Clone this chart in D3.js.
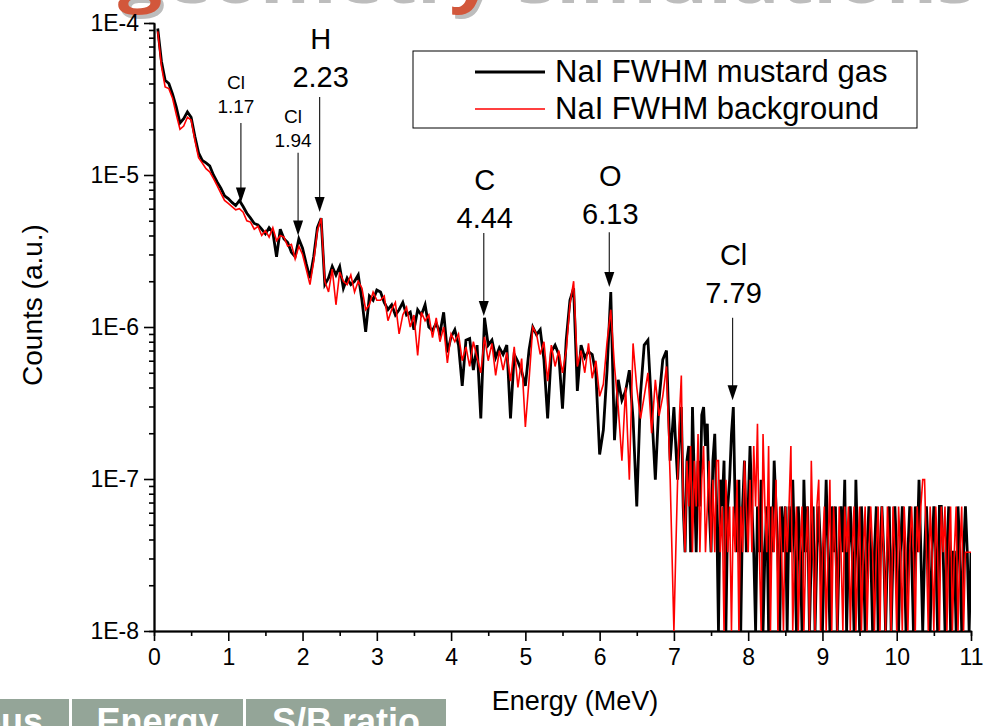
<!DOCTYPE html>
<html>
<head>
<meta charset="utf-8">
<script src="https://cdn.jsdelivr.net/npm/d3@7/dist/d3.min.js"></script>
<style>
    body { margin: 0; background: #fff; overflow: hidden; }
    svg text { font-family: "Liberation Sans", Arial, sans-serif; }
</style>
</head>
<body>
<div id="spectrum"></div>
<script>
// channel energies (MeV): 0.05 MeV bins up to 7 MeV, 0.025 MeV bins above
const coarseEnergies = d3.range(1, 141).map(i => +(i * 0.05).toFixed(3));
const fineEnergies   = d3.range(281, 441).map(i => +(i * 0.025).toFixed(3));
const energies = coarseEnergies.concat(fineEnergies);

// NaI FWHM mustard gas (black)
const mustardGas = [
    // 0.05 - 1.00
    9.2e-5, 5.6e-5, 4.2e-5, 4.0e-5, 3.4e-5, 2.8e-5, 2.2e-5, 2.35e-5, 2.6e-5, 2.4e-5,
    1.8e-5, 1.4e-5, 1.25e-5, 1.2e-5, 1.15e-5, 1.0e-5, 9.0e-6, 8.2e-6, 7.3e-6, 7.0e-6,
    // 1.05 - 2.00
    6.6e-6, 6.3e-6, 6.8e-6, 6.2e-6, 5.6e-6, 5.2e-6, 4.8e-6, 4.7e-6, 4.4e-6, 4.1e-6,
    4.5e-6, 4.2e-6, 2.9e-6, 4.4e-6, 3.8e-6, 3.6e-6, 3.1e-6, 2.9e-6, 3.8e-6, 3.3e-6,
    // 2.05 - 3.00
    2.6e-6, 2.1e-6, 2.9e-6, 4.5e-6, 5.2e-6, 1.9e-6, 2.1e-6, 2.5e-6, 2.2e-6, 2.5e-6,
    1.8e-6, 2.1e-6, 1.9e-6, 2.0e-6, 2.2e-6, 1.5e-6, 9.3e-7, 1.6e-6, 1.5e-6, 1.75e-6,
    // 3.05 - 4.00
    1.7e-6, 1.45e-6, 1.3e-6, 1.4e-6, 1.2e-6, 1.3e-6, 1.45e-6, 1.2e-6, 1.25e-6, 9.6e-7,
    1.3e-6, 1.2e-6, 1.4e-6, 1.0e-6, 9.5e-7, 1.06e-6, 9.1e-7, 1.25e-6, 6.8e-7, 8.6e-7,
    // 4.05 - 5.00
    9.6e-7, 7.6e-7, 4.1e-7, 8.2e-7, 8.4e-7, 5.2e-7, 7.6e-7, 2.5e-7, 1.15e-6, 7.6e-7,
    8.2e-7, 6.3e-7, 7.3e-7, 6.6e-7, 7.6e-7, 2.5e-7, 6.6e-7, 5.9e-7, 5.1e-7, 4.1e-7,
    // 5.05 - 6.00
    7.1e-7, 1.0e-6, 8.9e-7, 9.6e-7, 6.1e-7, 2.5e-7, 6.9e-7, 7.6e-7, 6.6e-7, 2.9e-7,
    8.2e-7, 1.5e-6, 1.8e-6, 3.8e-7, 7.6e-7, 6.3e-7, 6.9e-7, 6.6e-7, 4.9e-7, 1.45e-7,
    // 6.05 - 7.00
    2.1e-7, 5.2e-7, 1.7e-6, 1.8e-7, 4.5e-7, 3.3e-7, 3.8e-7, 5.2e-7, 2.5e-7, 6.6e-8,
    3.6e-7, 7.6e-7, 8.2e-7, 2.9e-7, 9.9e-8, 3.3e-7, 6.1e-7, 7.0e-7, 1.32e-7, 2.97e-7,
    // 7.025 - 7.500
    1.65e-7, 9.9e-8, 1.98e-7, 2.97e-7, 6.6e-8, 3.3e-8, 1.32e-7, 1.65e-7, 3.3e-8, 2.97e-7,
    9.9e-8, 3.3e-8, 1.32e-7, 6.6e-8, 2.64e-7, 2.97e-7, 1.65e-7, 2.31e-7, 6.6e-8, 3.3e-8,
    // 7.525 - 8.000
    1.32e-7, 1.98e-7, 6.6e-8, 0, 9.9e-8, 6.6e-8, 1.32e-7, 0, 6.6e-8, 9.9e-8,
    1.98e-7, 2.97e-7, 6.6e-8, 3.3e-8, 9.9e-8, 0, 6.6e-8, 1.32e-7, 3.3e-8, 6.6e-8,
    // 8.025 - 8.500
    1.65e-7, 6.6e-8, 3.3e-8, 0, 6.6e-8, 3.3e-8, 9.9e-8, 0, 3.3e-8, 6.6e-8,
    0, 6.6e-8, 3.3e-8, 1.32e-7, 6.6e-8, 3.3e-8, 0, 6.6e-8, 3.3e-8, 6.6e-8,
    // 8.525 - 9.000
    0, 6.6e-8, 3.3e-8, 9.9e-8, 3.3e-8, 0, 6.6e-8, 3.3e-8, 0, 9.9e-8,
    3.3e-8, 6.6e-8, 0, 3.3e-8, 6.6e-8, 0, 3.3e-8, 6.6e-8, 3.3e-8, 0,
    // 9.025 - 9.500
    3.3e-8, 9.9e-8, 3.3e-8, 0, 6.6e-8, 3.3e-8, 6.6e-8, 0, 3.3e-8, 6.6e-8,
    3.3e-8, 9.9e-8, 0, 3.3e-8, 6.6e-8, 3.3e-8, 0, 9.9e-8, 3.3e-8, 0,
    // 9.525 - 10.000
    6.6e-8, 3.3e-8, 0, 3.3e-8, 6.6e-8, 3.3e-8, 0, 3.3e-8, 6.6e-8, 0,
    3.3e-8, 6.6e-8, 3.3e-8, 0, 3.3e-8, 6.6e-8, 0, 3.3e-8, 6.6e-8, 3.3e-8,
    // 10.025 - 10.500
    0, 3.3e-8, 6.6e-8, 3.3e-8, 0, 3.3e-8, 6.6e-8, 3.3e-8, 0, 6.6e-8,
    3.3e-8, 9.9e-8, 3.3e-8, 0, 3.3e-8, 6.6e-8, 3.3e-8, 0, 3.3e-8, 6.6e-8,
    // 10.525 - 11.000
    3.3e-8, 0, 6.6e-8, 6.6e-8, 3.3e-8, 0, 3.3e-8, 6.6e-8, 0, 3.3e-8,
    3.3e-8, 0, 6.6e-8, 3.3e-8, 0, 3.3e-8, 6.6e-8, 3.3e-8, 0, 3.3e-8
];

// NaI FWHM background (red)
const background = [
    // 0.05 - 1.00
    8.8e-5, 5.2e-5, 3.8e-5, 3.7e-5, 3.2e-5, 2.5e-5, 2.0e-5, 2.1e-5, 2.4e-5, 2.3e-5,
    1.7e-5, 1.3e-5, 1.2e-5, 1.1e-5, 1.05e-5, 9.5e-6, 8.5e-6, 7.6e-6, 6.8e-6, 6.5e-6,
    // 1.05 - 2.00
    6.2e-6, 5.9e-6, 6.0e-6, 5.7e-6, 5.0e-6, 4.9e-6, 4.4e-6, 4.6e-6, 4.0e-6, 4.3e-6,
    3.9e-6, 4.5e-6, 3.7e-6, 4.0e-6, 3.9e-6, 3.4e-6, 3.5e-6, 2.8e-6, 3.4e-6, 3.0e-6,
    // 2.05 - 3.00
    2.4e-6, 1.9e-6, 2.7e-6, 4.3e-6, 5.2e-6, 2.0e-6, 1.7e-6, 2.4e-6, 1.4e-6, 2.3e-6,
    2.0e-6, 1.9e-6, 2.2e-6, 1.7e-6, 2.0e-6, 1.8e-6, 1.3e-6, 1.4e-6, 1.7e-6, 1.5e-6,
    // 3.05 - 4.00
    1.5e-6, 1.6e-6, 1.1e-6, 1.3e-6, 1.45e-6, 9.0e-7, 1.2e-6, 1.35e-6, 1.0e-6, 1.2e-6,
    6.5e-7, 1.25e-6, 1.1e-6, 1.2e-6, 8.5e-7, 1.15e-6, 8.0e-7, 1.0e-6, 5.8e-7, 9.0e-7,
    // 4.05 - 5.00
    8.0e-7, 9.0e-7, 6.0e-7, 7.4e-7, 5.5e-7, 8.0e-7, 6.3e-7, 5.0e-7, 8.6e-7, 6.0e-7,
    7.8e-7, 4.8e-7, 7.0e-7, 5.2e-7, 6.8e-7, 4.4e-7, 7.4e-7, 4.0e-7, 6.2e-7, 2.2e-7,
    // 5.05 - 6.00
    4.5e-7, 1.0e-6, 9.0e-7, 6.6e-7, 8.0e-7, 4.4e-7, 7.6e-7, 5.5e-7, 7.0e-7, 5.0e-7,
    7.0e-7, 1.4e-6, 2.0e-6, 5.5e-7, 7.0e-7, 5.0e-7, 7.8e-7, 4.6e-7, 6.0e-7, 3.5e-7,
    // 6.05 - 7.00
    4.2e-7, 8.0e-7, 1.3e-6, 5.5e-7, 3.0e-7, 1.32e-7, 4.0e-7, 9.9e-8, 7.8e-7, 4.0e-7,
    2.5e-7, 3.5e-7, 5.0e-7, 2.0e-7, 4.5e-7, 2.6e-7, 3.5e-7, 5.5e-7, 9.9e-8, 0,
    // 7.025 - 7.500
    3.3e-8, 9.9e-8, 2.64e-7, 4.8e-7, 6.6e-8, 3.3e-8, 1.32e-7, 6.6e-8, 1.65e-7, 3.3e-8,
    1.32e-7, 6.6e-8, 1.98e-7, 3.3e-8, 9.9e-8, 1.65e-7, 3.3e-8, 6.6e-8, 1.32e-7, 3.3e-8,
    // 7.525 - 8.000
    9.9e-8, 3.3e-8, 1.32e-7, 1.32e-7, 3.3e-8, 6.6e-8, 0, 9.9e-8, 3.3e-8, 6.6e-8,
    0, 6.6e-8, 3.3e-8, 9.9e-8, 0, 6.6e-8, 3.3e-8, 1.32e-7, 6.6e-8, 3.3e-8,
    // 8.025 - 8.500
    9.9e-8, 3.3e-8, 1.65e-7, 6.6e-8, 2.31e-7, 3.3e-8, 0, 1.98e-7, 6.6e-8, 3.3e-8,
    1.65e-7, 0, 6.6e-8, 3.3e-8, 9.9e-8, 0, 6.6e-8, 3.3e-8, 0, 6.6e-8,
    // 8.525 - 9.000
    3.3e-8, 6.6e-8, 1.65e-7, 0, 3.3e-8, 6.6e-8, 0, 3.3e-8, 6.6e-8, 0,
    3.3e-8, 6.6e-8, 0, 1.32e-7, 3.3e-8, 0, 6.6e-8, 9.9e-8, 0, 3.3e-8,
    // 9.025 - 9.500
    6.6e-8, 0, 3.3e-8, 9.9e-8, 0, 6.6e-8, 3.3e-8, 0, 6.6e-8, 3.3e-8,
    0, 6.6e-8, 3.3e-8, 6.6e-8, 0, 3.3e-8, 6.6e-8, 0, 3.3e-8, 6.6e-8,
    // 9.525 - 10.000
    0, 3.3e-8, 6.6e-8, 0, 3.3e-8, 6.6e-8, 3.3e-8, 0, 3.3e-8, 6.6e-8,
    0, 6.6e-8, 3.3e-8, 0, 6.6e-8, 3.3e-8, 0, 6.6e-8, 3.3e-8, 0,
    // 10.025 - 10.500
    6.6e-8, 3.3e-8, 0, 6.6e-8, 3.3e-8, 0, 3.3e-8, 6.6e-8, 3.3e-8, 0,
    6.6e-8, 3.3e-8, 6.6e-8, 9.9e-8, 9.9e-8, 3.3e-8, 0, 6.6e-8, 3.3e-8, 0,
    // 10.525 - 11.000
    6.6e-8, 3.3e-8, 0, 6.6e-8, 3.3e-8, 6.6e-8, 0, 3.3e-8, 6.6e-8, 0,
    3.3e-8, 6.6e-8, 0, 3.3e-8, 6.6e-8, 0, 3.3e-8, 3.3e-8, 3.3e-8, 3.3e-8
];

const seriesNames = ["NaI FWHM mustard gas", "NaI FWHM background"];

const xTicks = [0, 1, 2, 3, 4, 5, 6, 7, 8, 9, 10, 11];
const yTicks = [1e-8, 1e-7, 1e-6, 1e-5, 1e-4];
const yTickLabels = ["1E-8", "1E-7", "1E-6", "1E-5", "1E-4"];

// peak markers: element, energy, arrow tip / tail and label baseline (counts)
const peakElements = ["Cl", "Cl", "H", "C", "O", "Cl"];
const peakEnergies = [1.17, 1.94, 2.23, 4.44, 6.13, 7.79];
const peakTips     = [6.6e-6, 4.0e-6, 5.7e-6, 1.18e-6, 1.83e-6, 3.3e-7];
const peakTails    = [2.2e-5, 1.4e-5, 3.26e-5, 4.15e-6, 4.2e-6, 1.15e-6];
const peakLabelAt  = [2.56e-5, 1.53e-5, 3.8e-5, 4.48e-6, 4.77e-6, 1.44e-6];
const peakBig      = [false, false, true, true, true, true];

const tableHeaders = ["Nucleus", "Energy", "S/B ratio"];

var width  = 984;
var height = 726;
var margin = { top: 23, right: 13, bottom: 95, left: 154 };
var plotW = width - margin.left - margin.right;
var plotH = height - margin.top - margin.bottom;

let root = d3.select('#spectrum')
    .append('svg')
        .attr('width', width)
        .attr('height', height);

// slide title, cut off at the top (shadow first)
[['#bdbdbd', 121, 3], ['#d2573b', 118, -1]].forEach(function (t) {
    root.append('text')
        .attr('x', t[1]).attr('y', t[2])
        .attr('textLength', 855)
        .attr('lengthAdjust', 'spacingAndGlyphs')
        .attr('fill', t[0])
        .style('font-family', '"Open Sans", sans-serif')
        .style('font-weight', 700)
        .style('font-size', '66px')
        .text('geometry simulations');
});

// table header row at the bottom left
let cellX = [-160, 72, 246];
let cellW = [229, 171, 200];
let table = root.append('g');
table.selectAll('rect')
    .data(tableHeaders)
    .enter().append('rect')
        .attr('x', (d, i) => cellX[i])
        .attr('y', 699)
        .attr('width', (d, i) => cellW[i])
        .attr('height', 40)
        .attr('fill', '#94a598');
table.selectAll('text')
    .data(tableHeaders)
    .enter().append('text')
        .attr('x', (d, i) => i == 0 ? 43 : cellX[i] + cellW[i] / 2)
        .attr('y', 734)
        .attr('text-anchor', (d, i) => i == 0 ? 'end' : 'middle')
        .attr('fill', '#fff')
        .style('font-weight', 700)
        .style('font-size', '36px')
        .text(d => d);

let svg = root.append('g')
    .attr('transform', 'translate(' + margin.left + ',' + margin.top + ')');

let xScale = d3.scaleLinear()
    .domain([0, 11])
    .range([0, plotW]);

let yScale = d3.scaleLog()
    .domain([1e-8, 1e-4])
    .range([plotH, 0]);

svg.append('clipPath')
    .attr('id', 'plot-clip')
    .append('rect')
        .attr('x', 0).attr('y', 0)
        .attr('width', plotW).attr('height', plotH);

// minor ticks
let xMinor = xTicks.slice(0, -1).map(d => d + 0.5);
let yMinor = [];
yTicks.slice(0, -1).forEach(function (dec) {
    for (let m = 2; m < 10; m++) yMinor.push(m * dec);
});

svg.append('g')
    .attr('class', 'minor')
    .attr('transform', 'translate(0,' + plotH + ')')
    .call(d3.axisBottom(xScale).tickValues(xMinor).tickSize(5).tickFormat(''));
svg.append('g')
    .attr('class', 'minor')
    .call(d3.axisLeft(yScale).tickValues(yMinor).tickSize(5).tickFormat(''));

let xAxis = d3.axisBottom(xScale)
    .tickValues(xTicks)
    .tickSize(10)
    .tickSizeOuter(0)
    .tickPadding(8)
    .tickFormat(d3.format('d'));
svg.append('g')
    .attr('class', 'x axis')
    .attr('transform', 'translate(0,' + plotH + ')')
    .call(xAxis);

let yAxis = d3.axisLeft(yScale)
    .tickValues(yTicks)
    .tickSize(10)
    .tickSizeOuter(0)
    .tickPadding(5)
    .tickFormat((d, i) => yTickLabels[i]);
svg.append('g')
    .attr('class', 'y axis')
    .call(yAxis);

svg.selectAll('.axis text, .minor text')
    .style('font-family', '"Liberation Sans", Arial, sans-serif')
    .style('font-size', '23px')
    .attr('fill', '#000');
svg.selectAll('.axis path, .axis line, .minor line, .minor path')
    .attr('stroke', '#000')
    .attr('stroke-width', 1.6);
svg.selectAll('.axis path').attr('stroke-width', 2);

// axis titles
svg.append('text')
    .attr('transform', 'rotate(-90)')
    .attr('x', -(305 - margin.top))
    .attr('y', 42 - margin.left)
    .style('text-anchor', 'middle')
    .style('font-size', '28px')
    .text('Counts (a.u.)');

svg.append('text')
    .attr('x', 575 - margin.left)
    .attr('y', 710 - margin.top)
    .style('text-anchor', 'middle')
    .style('font-size', '27px')
    .text('Energy (MeV)');

// spectra
let yMin = yScale.domain()[0];
let line = d3.line()
    .x(d => xScale(d[0]))
    .y(d => yScale(Math.max(d[1], yMin)));

let plot = svg.append('g').attr('clip-path', 'url(#plot-clip)');
plot.append('path')
    .datum(energies.map((e, i) => [e, mustardGas[i]]))
    .attr('fill', 'none')
    .attr('stroke', '#000')
    .attr('stroke-width', 2.8)
    .attr('d', line);
plot.append('path')
    .datum(energies.map((e, i) => [e, background[i]]))
    .attr('fill', 'none')
    .attr('stroke', '#ff0000')
    .attr('stroke-width', 1.6)
    .attr('d', line);

// peak arrows and labels
let peaks = peakElements.map((el, i) => ({
    el: el, e: peakEnergies[i], tip: peakTips[i], tail: peakTails[i],
    at: peakLabelAt[i], big: peakBig[i]
}));

let marks = svg.append('g').selectAll('g')
    .data(peaks)
    .enter().append('g');

marks.append('line')
    .attr('x1', d => xScale(d.e)).attr('x2', d => xScale(d.e))
    .attr('y1', d => yScale(d.tail))
    .attr('y2', d => yScale(d.tip) - 12)
    .attr('stroke', '#222')
    .attr('stroke-width', 1.2);

marks.append('path')
    .attr('d', function (d) {
        let x = xScale(d.e), y = yScale(d.tip);
        return 'M' + (x - 5) + ',' + (y - 15) + 'L' + (x + 5) + ',' + (y - 15) + 'L' + x + ',' + y + 'Z';
    })
    .attr('fill', '#000');

marks.append('text')
    .attr('x', d => xScale(d.e) + (d.big ? 1 : -5))
    .attr('y', d => yScale(d.at))
    .style('text-anchor', 'middle')
    .style('font-size', d => d.big ? '29px' : '19px')
    .text(d => d.e.toFixed(2));

marks.append('text')
    .attr('x', d => xScale(d.e) + (d.big ? 1 : -5))
    .attr('y', d => yScale(d.at) - (d.big ? 38 : 24))
    .style('text-anchor', 'middle')
    .style('font-size', d => d.big ? '29px' : '19px')
    .text(d => d.el);

// legend
let legend = root.append('g');
legend.append('rect')
    .attr('x', 413).attr('y', 51)
    .attr('width', 504).attr('height', 77)
    .attr('fill', '#fff')
    .attr('stroke', '#000')
    .attr('stroke-width', 1);

let legendColors = ['#000', '#ff0000'];
let legendWidths = [3, 1.5];
seriesNames.forEach(function (name, i) {
    let ly = 72 + i * 37;
    legend.append('line')
        .attr('x1', 475).attr('x2', 545)
        .attr('y1', ly).attr('y2', ly)
        .attr('stroke', legendColors[i])
        .attr('stroke-width', legendWidths[i]);
    legend.append('text')
        .attr('x', 555).attr('y', ly + 10)
        .style('font-size', '31px')
        .text(name);
});
</script>
</body>
</html>
